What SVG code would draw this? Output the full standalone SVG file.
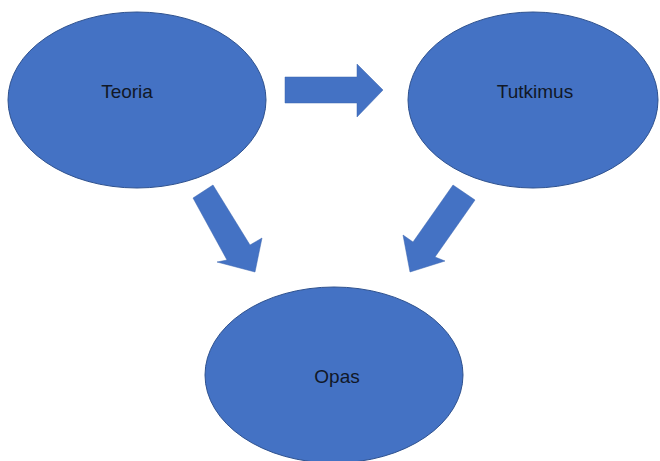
<svg xmlns="http://www.w3.org/2000/svg" width="660" height="461" viewBox="0 0 660 461">
<style>
.node ellipse{fill:#4472C4;stroke:#2F528F;stroke-width:1}
.node text{font-family:"Liberation Sans",Arial,sans-serif;font-size:19px;fill:#111827;text-anchor:middle}
.conn polygon{fill:#4472C4;stroke:#3A64AE;stroke-width:0.5}
</style>
<rect width="660" height="461" fill="#ffffff"/>
<g id="connectors" class="conn">
<polygon points="285,77 357,77 357,64 383,90 357,117 357,103 285,103"/>
<polygon points="193,198 213,185 250,245 262,238 255,272 217,262 227,260"/>
<polygon points="453,185 475,200 435,257 445,261 410,272 403,235 413,242"/>
</g>
<g id="teoria" class="node">
<ellipse cx="137" cy="100" rx="129" ry="88"/>
<text x="127" y="98">Teoria</text>
</g>
<g id="tutkimus" class="node">
<ellipse cx="533" cy="100" rx="125" ry="88"/>
<text x="535" y="98">Tutkimus</text>
</g>
<g id="opas" class="node">
<ellipse cx="334" cy="375" rx="129" ry="88"/>
<text x="337" y="383">Opas</text>
</g>
</svg>
